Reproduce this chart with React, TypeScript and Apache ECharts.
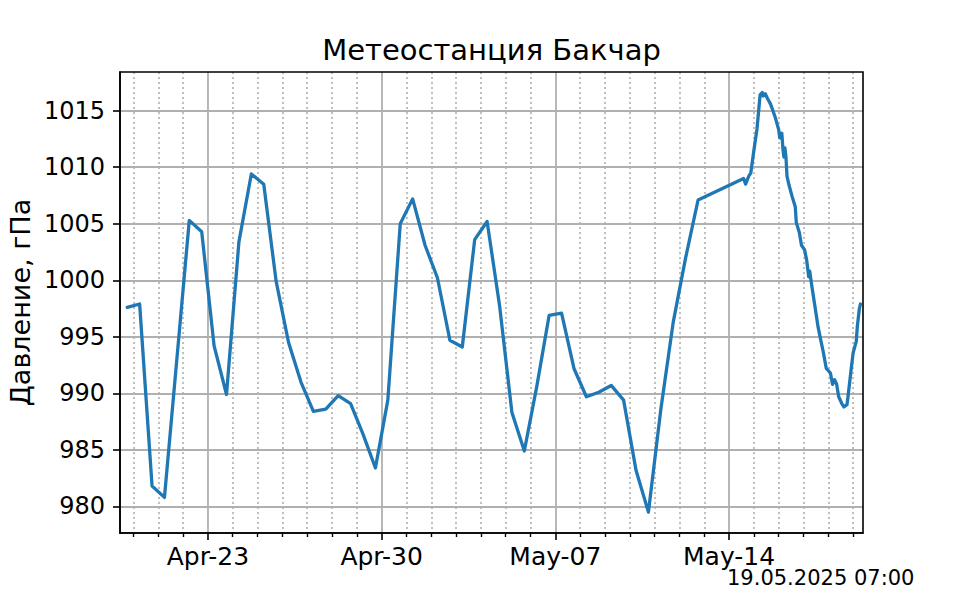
import React, { useEffect, useRef } from "react";
import * as echarts from "echarts";

const titleText = "Метеостанция Бакчар";
const yLabelText = "Давление, гПа";
const stampText = "19.05.2025 07:00";

const times: string[] = [
  "2025-04-19 18:00", "2025-04-20 06:00", "2025-04-20 18:00", "2025-04-21 06:00",
  "2025-04-22 06:00", "2025-04-22 18:00", "2025-04-23 06:00", "2025-04-23 18:00",
  "2025-04-24 06:00", "2025-04-24 18:00", "2025-04-25 06:00", "2025-04-25 18:00",
  "2025-04-26 06:00", "2025-04-26 18:00", "2025-04-27 06:00", "2025-04-27 18:00",
  "2025-04-28 06:00", "2025-04-28 18:00", "2025-04-29 06:00", "2025-04-29 18:00",
  "2025-04-30 06:00", "2025-04-30 18:00", "2025-05-01 06:00", "2025-05-01 18:00",
  "2025-05-02 06:00", "2025-05-02 18:00", "2025-05-03 06:00", "2025-05-03 18:00",
  "2025-05-04 06:00", "2025-05-04 18:00", "2025-05-05 06:00", "2025-05-05 18:00",
  "2025-05-06 06:00", "2025-05-06 18:00", "2025-05-07 06:00", "2025-05-07 18:00",
  "2025-05-08 06:00", "2025-05-08 18:00", "2025-05-09 06:00", "2025-05-09 18:00",
  "2025-05-10 06:00", "2025-05-10 18:00", "2025-05-11 06:00", "2025-05-11 18:00",
  "2025-05-12 06:00", "2025-05-12 18:00",
  "2025-05-14 14:00", "2025-05-14 16:00", "2025-05-14 19:00", "2025-05-14 21:00",
  "2025-05-15 00:00", "2025-05-15 03:00", "2025-05-15 06:00", "2025-05-15 08:00",
  "2025-05-15 09:00", "2025-05-15 11:00", "2025-05-15 13:00", "2025-05-15 16:00",
  "2025-05-15 18:00", "2025-05-15 21:00", "2025-05-16 00:00", "2025-05-16 01:00",
  "2025-05-16 03:00", "2025-05-16 04:00", "2025-05-16 05:00", "2025-05-16 06:00",
  "2025-05-16 07:00", "2025-05-16 08:00", "2025-05-16 10:00", "2025-05-16 13:00",
  "2025-05-16 16:00", "2025-05-16 17:00", "2025-05-16 20:00", "2025-05-16 22:00",
  "2025-05-17 01:00", "2025-05-17 03:00", "2025-05-17 05:00", "2025-05-17 06:00",
  "2025-05-17 08:00", "2025-05-17 10:00", "2025-05-17 13:00", "2025-05-17 14:00",
  "2025-05-17 16:00", "2025-05-17 19:00", "2025-05-17 22:00", "2025-05-18 02:00",
  "2025-05-18 04:00", "2025-05-18 06:00", "2025-05-18 08:00", "2025-05-18 10:00",
  "2025-05-18 13:00", "2025-05-18 15:00", "2025-05-18 18:00", "2025-05-18 19:00",
  "2025-05-18 22:00", "2025-05-19 00:00", "2025-05-19 03:00", "2025-05-19 04:00",
  "2025-05-19 06:00", "2025-05-19 07:00",
];

const pressure: number[] = [
  997.6, 997.9, 981.8, 980.8,
  1005.3, 1004.3, 994.2, 989.9,
  1003.4, 1009.4, 1008.5, 999.9,
  994.5, 991.0, 988.4, 988.6,
  989.8, 989.1, 986.4, 983.4,
  989.4, 1005.0, 1007.2, 1003.1,
  1000.2, 994.7, 994.1, 1003.6,
  1005.2, 997.8, 988.3, 984.9,
  990.6, 996.9, 997.1, 992.2,
  989.7, 990.1, 990.7, 989.4,
  983.2, 979.5, 988.6, 996.3,
  1002.0, 1007.1,
  1009.0, 1008.5, 1009.2, 1009.5,
  1011.5, 1013.4, 1016.4, 1016.6,
  1016.3, 1016.5, 1016.1, 1015.6,
  1015.1, 1014.3, 1013.3, 1012.6,
  1013.0, 1011.7, 1010.9, 1011.7,
  1010.9, 1009.2, 1008.4, 1007.4,
  1006.5, 1005.1, 1004.2, 1003.1,
  1002.7, 1001.8, 1000.3, 1000.8,
  999.5, 998.3, 996.5, 995.9,
  995.0, 993.7, 992.2, 991.8,
  990.8, 991.2, 990.8, 989.7,
  989.1, 988.8, 989.0, 989.7,
  992.1, 993.6, 994.6, 995.9,
  997.5, 997.9,
];

const majorTickDates: string[] = ["2025-04-23 00:00", "2025-04-30 00:00", "2025-05-07 00:00", "2025-05-14 00:00"];
const minorTickDates: string[] = [
  "2025-04-20 00:00", "2025-04-21 00:00", "2025-04-22 00:00",
  "2025-04-24 00:00", "2025-04-25 00:00", "2025-04-26 00:00", "2025-04-27 00:00", "2025-04-28 00:00", "2025-04-29 00:00",
  "2025-05-01 00:00", "2025-05-02 00:00", "2025-05-03 00:00", "2025-05-04 00:00", "2025-05-05 00:00", "2025-05-06 00:00",
  "2025-05-08 00:00", "2025-05-09 00:00", "2025-05-10 00:00", "2025-05-11 00:00", "2025-05-12 00:00", "2025-05-13 00:00",
  "2025-05-15 00:00", "2025-05-16 00:00", "2025-05-17 00:00", "2025-05-18 00:00", "2025-05-19 00:00",
];
const yTicks: number[] = [980, 985, 990, 995, 1000, 1005, 1010, 1015];
const xMinStr = "2025-04-19 11:00";
const xMaxStr = "2025-05-19 09:30";
const yMin = 977.65;
const yMax = 1018.42;

const monthNames = ["Jan", "Feb", "Mar", "Apr", "May", "Jun", "Jul", "Aug", "Sep", "Oct", "Nov", "Dec"];

function ts(s: string): number {
  const [d, t] = s.split(" ");
  const [Y, M, D] = d.split("-").map(Number);
  const [h, m] = (t || "0:0").split(":").map(Number);
  return new Date(Y, M - 1, D, h, m).getTime();
}

const FONT = "DejaVu Sans";
const GRID_COLOR = "#b0b0b0";

export default function App() {
  const ref = useRef<HTMLDivElement>(null);
  useEffect(() => {
    if (!ref.current) return;
    const chart = echarts.init(ref.current, undefined, { renderer: "svg" });
    const gl = 120, gr = 863, gt = 72, gb = 533;
    const xMin = ts(xMinStr);
    const xMax = ts(xMaxStr);
    const data = times.map((t, i) => [ts(t), pressure[i]]);
    chart.setOption({
      animation: false,
      backgroundColor: "#ffffff",
      grid: {
        left: gl, top: gt, width: gr - gl, height: gb - gt,
        show: true, borderColor: "#000000", borderWidth: 1.6, backgroundColor: "transparent", z: 3,
      },
      xAxis: [
        {
          type: "value", min: xMin, max: xMax, position: "bottom", gridIndex: 0, scale: true,
          axisLine: { show: true, onZero: false, lineStyle: { color: "#000", width: 1.6 } },
          axisTick: { show: true, length: 7, customValues: majorTickDates.map(ts), lineStyle: { color: "#000", width: 1.6 } },
          axisLabel: {
            show: true, customValues: majorTickDates.map(ts), margin: 11, hideOverlap: false,
            color: "#000", fontFamily: FONT, fontSize: 25, lineHeight: 24,
            formatter: (v: number) => {
              const d = new Date(v);
              return monthNames[d.getMonth()] + "-" + String(d.getDate()).padStart(2, "0");
            },
          },
          splitLine: { show: true, lineStyle: { color: GRID_COLOR, width: 1.8, type: "solid" } },
          z: 2,
        },
        {
          type: "value", min: xMin, max: xMax, position: "bottom", gridIndex: 0, scale: true,
          axisLine: { show: false, onZero: false },
          axisTick: { show: true, length: 4, customValues: minorTickDates.map(ts), lineStyle: { color: "#000", width: 1.4 } },
          axisLabel: { show: false },
          splitLine: { show: true, lineStyle: { color: GRID_COLOR, width: 1.6, type: [2, 3] } },
          z: 1,
        },
      ],
      yAxis: {
        type: "value", min: yMin, max: yMax, scale: true,
        axisLine: { show: true, onZero: false, lineStyle: { color: "#000", width: 1.6 } },
        axisTick: { show: true, length: 7, customValues: yTicks, lineStyle: { color: "#000", width: 1.6 } },
        axisLabel: {
          show: true, customValues: yTicks, margin: 15,
          color: "#000", fontFamily: FONT, fontSize: 24,
          formatter: (v: number) => String(Math.round(v)),
        },
        splitLine: { show: true, lineStyle: { color: GRID_COLOR, width: 1.8 } },
      },
      series: [
        {
          type: "line", xAxisIndex: 0, yAxisIndex: 0, data,
          showSymbol: false, symbol: "none",
          lineStyle: { color: "#1f77b4", width: 3.3, join: "round", cap: "round" },
          z: 5,
        },
      ],
      graphic: [
        {
          type: "text", x: (gl + gr) / 2, y: 50,
          style: { text: titleText, align: "center", verticalAlign: "middle", fill: "#000", font: `29px "${FONT}"` },
        },
        {
          type: "text", x: 20, y: (gt + gb) / 2, rotation: Math.PI / 2,
          style: { text: yLabelText, align: "center", verticalAlign: "middle", fill: "#000", font: `27px "${FONT}"` },
        },
        {
          type: "text", x: 727, y: 578,
          style: { text: stampText, align: "left", verticalAlign: "middle", fill: "#000", font: `21px "${FONT}"`, lineHeight: 14 },
        },
      ],
    });
    return () => chart.dispose();
  }, []);
  return <div ref={ref} style={{ position: "fixed", left: 0, top: 0, width: 960, height: 600, background: "#fff" }} />;
}
